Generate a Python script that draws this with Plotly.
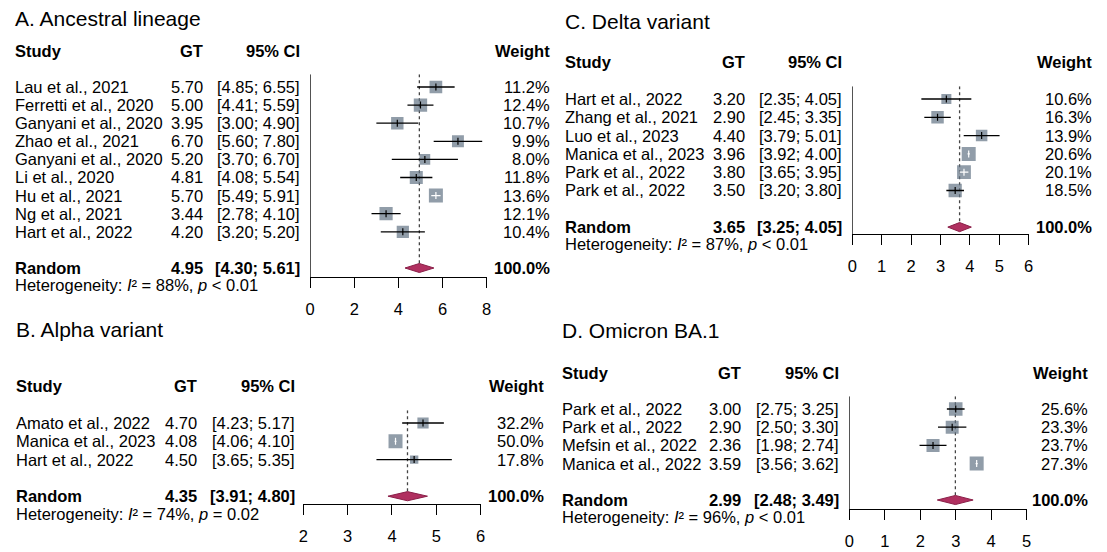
import math
import plotly.graph_objects as go

W, H = 1107, 552
FONT = "Liberation Sans, Arial, sans-serif"
FS = 16.5

# ---------------- data ----------------
a_title = "A. Ancestral lineage"
a_study = ["Lau et al., 2021", "Ferretti et al., 2020", "Ganyani et al., 2020", "Zhao et al., 2021",
           "Ganyani et al., 2020", "Li et al., 2020", "Hu et al., 2021", "Ng et al., 2021", "Hart et al., 2022"]
a_gt = [5.70, 5.00, 3.95, 6.70, 5.20, 4.81, 5.70, 3.44, 4.20]
a_lo = [4.85, 4.41, 3.00, 5.60, 3.70, 4.08, 5.49, 2.78, 3.20]
a_hi = [6.55, 5.59, 4.90, 7.80, 6.70, 5.54, 5.91, 4.10, 5.20]
a_weight = [11.2, 12.4, 10.7, 9.9, 8.0, 11.8, 13.6, 12.1, 10.4]
a_pooled = [4.95, 4.30, 5.61]
a_i2 = 88
a_p = "<i>p</i> &lt; 0.01"
a_ticks = [0, 2, 4, 6, 8]

b_title = "B. Alpha variant"
b_study = ["Amato et al., 2022", "Manica et al., 2023", "Hart et al., 2022"]
b_gt = [4.70, 4.08, 4.50]
b_lo = [4.23, 4.06, 3.65]
b_hi = [5.17, 4.10, 5.35]
b_weight = [32.2, 50.0, 17.8]
b_pooled = [4.35, 3.91, 4.80]
b_i2 = 74
b_p = "<i>p</i> = 0.02"
b_ticks = [2, 3, 4, 5, 6]

c_title = "C. Delta variant"
c_study = ["Hart et al., 2022", "Zhang et al., 2021", "Luo et al., 2023", "Manica et al., 2023",
           "Park et al., 2022", "Park et al., 2022"]
c_gt = [3.20, 2.90, 4.40, 3.96, 3.80, 3.50]
c_lo = [2.35, 2.45, 3.79, 3.92, 3.65, 3.20]
c_hi = [4.05, 3.35, 5.01, 4.00, 3.95, 3.80]
c_weight = [10.6, 16.3, 13.9, 20.6, 20.1, 18.5]
c_pooled = [3.65, 3.25, 4.05]
c_i2 = 87
c_p = "<i>p</i> &lt; 0.01"
c_ticks = [0, 1, 2, 3, 4, 5, 6]

d_title = "D. Omicron BA.1"
d_study = ["Park et al., 2022", "Park et al., 2022", "Mefsin et al., 2022", "Manica et al., 2022"]
d_gt = [3.00, 2.90, 2.36, 3.59]
d_lo = [2.75, 2.50, 1.98, 3.56]
d_hi = [3.25, 3.30, 2.74, 3.62]
d_weight = [25.6, 23.3, 23.7, 27.3]
d_pooled = [2.99, 2.48, 3.49]
d_i2 = 96
d_p = "<i>p</i> &lt; 0.01"
d_ticks = [0, 1, 2, 3, 4, 5]

# ---------------- layout (pixels) ----------------
panels = [
    dict(title=a_title, study=a_study, gt=a_gt, lo=a_lo, hi=a_hi, w=a_weight, pooled=a_pooled,
         i2=a_i2, p=a_p, ticks=a_ticks,
         title_x=8, title_y=18, row0=87, step=18.1, axis_px=277,
         x0=308, x1=486, col_study=8, col_gt=202, col_ci=300, col_w=552),
    dict(title=b_title, study=b_study, gt=b_gt, lo=b_lo, hi=b_hi, w=b_weight, pooled=b_pooled,
         i2=b_i2, p=b_p, ticks=b_ticks,
         title_x=9, title_y=329, row0=423, step=18.3, axis_px=504,
         x0=301, x1=480, col_study=9, col_gt=196, col_ci=295, col_w=546),
    dict(title=c_title, study=c_study, gt=c_gt, lo=c_lo, hi=c_hi, w=c_weight, pooled=c_pooled,
         i2=c_i2, p=c_p, ticks=c_ticks,
         title_x=563, title_y=21, row0=99, step=18.3, axis_px=234,
         x0=855, x1=1033, col_study=563, col_gt=749, col_ci=847, col_w=1099),
    dict(title=d_title, study=d_study, gt=d_gt, lo=d_lo, hi=d_hi, w=d_weight, pooled=d_pooled,
         i2=d_i2, p=d_p, ticks=d_ticks,
         title_x=560, title_y=330, row0=409, step=18.2, axis_px=509,
         x0=852, x1=1031, col_study=560, col_gt=745, col_ci=844, col_w=1095),
]

SQ_COL = "#637485"
DIA_FILL = "#b03060"
DIA_LINE = "#8a1f48"
MAX_SIDE = 14.0
YTOP = -0.7

fig = go.Figure()
annotations = []
layout_axes = {}


def px2py(py):
    return 1 - py / H


def px2px(px):
    return px / W


for k, P in enumerate(panels, start=1):
    xa = "x" if k == 1 else f"x{k}"
    ya = "y" if k == 1 else f"y{k}"
    xname = "xaxis" if k == 1 else f"xaxis{k}"
    yname = "yaxis" if k == 1 else f"yaxis{k}"
    n = len(P["study"])
    rows = list(range(n))
    rand_row = n + 1
    het_row = n + 2
    head_row = -2
    r_bottom = (P["axis_px"] - P["row0"]) / P["step"]
    top_px = P["row0"] + YTOP * P["step"]
    xmin, xmax = P["ticks"][0], P["ticks"][-1]
    ppu = (P["x1"] - P["x0"]) / (xmax - xmin)

    layout_axes[xname] = dict(domain=[px2px(P["x0"]), px2px(P["x1"])], range=[xmin, xmax],
                              anchor=ya, tickvals=P["ticks"], ticks="outside", ticklen=10,
                              tickwidth=1.3, tickcolor="black", showline=True, linecolor="black",
                              linewidth=1.3, showgrid=False, zeroline=False, ticklabelstandoff=7,
                              tickfont=dict(family=FONT, size=FS, color="black"), fixedrange=True)
    layout_axes[yname] = dict(domain=[px2py(P["axis_px"]), px2py(top_px)], range=[r_bottom, YTOP],
                              anchor=xa, visible=False, fixedrange=True)

    # reference line at 0
    if xmin <= 0 <= xmax:
        fig.add_trace(go.Scatter(x=[0, 0], y=[YTOP, r_bottom], mode="lines", xaxis=xa, yaxis=ya,
                                 line=dict(color="black", width=1.3), hoverinfo="skip"))
    est, plo, phi = P["pooled"]
    # dotted pooled line
    fig.add_trace(go.Scatter(x=[est, est], y=[YTOP, rand_row], mode="lines", xaxis=xa, yaxis=ya,
                             line=dict(color="#444444", width=1.3, dash="dot"), hoverinfo="skip"))
    # squares
    wmax = max(P["w"])
    sides = [MAX_SIDE * math.sqrt(w / wmax) for w in P["w"]]
    fig.add_trace(go.Scatter(x=P["gt"], y=rows, mode="markers", xaxis=xa, yaxis=ya,
                             marker=dict(symbol="square", size=sides, color=SQ_COL,
                                         line=dict(color=SQ_COL, width=0)), hoverinfo="skip"))
    # CI lines
    bx, by, wx, wy = [], [], [], []
    tbx, tby, twx, twy = [], [], [], []
    for i in range(n):
        inside = (P["hi"][i] - P["lo"][i]) * ppu < sides[i]
        if inside:
            wx += [P["lo"][i], P["hi"][i], None]
            wy += [i, i, None]
            twx.append(P["gt"][i]); twy.append(i)
        else:
            bx += [P["lo"][i], P["hi"][i], None]
            by += [i, i, None]
            tbx.append(P["gt"][i]); tby.append(i)
    if bx:
        fig.add_trace(go.Scatter(x=bx, y=by, mode="lines", xaxis=xa, yaxis=ya,
                                 line=dict(color="black", width=1.3), hoverinfo="skip"))
        fig.add_trace(go.Scatter(x=tbx, y=tby, mode="markers", xaxis=xa, yaxis=ya,
                                 marker=dict(symbol="line-ns", size=5, line=dict(color="black", width=1.2)),
                                 hoverinfo="skip"))
    if wx:
        fig.add_trace(go.Scatter(x=wx, y=wy, mode="lines", xaxis=xa, yaxis=ya,
                                 line=dict(color="white", width=1.3), hoverinfo="skip"))
        fig.add_trace(go.Scatter(x=twx, y=twy, mode="markers", xaxis=xa, yaxis=ya,
                                 marker=dict(symbol="line-ns", size=5, line=dict(color="white", width=1.2)),
                                 hoverinfo="skip"))
    # diamond
    hh = 0.25
    fig.add_trace(go.Scatter(x=[plo, est, phi, est, plo], y=[rand_row, rand_row - hh, rand_row, rand_row + hh, rand_row],
                             mode="lines", fill="toself", fillcolor=DIA_FILL, xaxis=xa, yaxis=ya,
                             line=dict(color=DIA_LINE, width=1), hoverinfo="skip"))

    # ---- texts (paper coordinates derived from row positions) ----
    def row_py(row):
        return px2py(P["row0"] + row * P["step"])

    def ann(text, xpx, row, anchor, bold=False, size=FS):
        t = f"<b>{text}</b>" if bold else text
        annotations.append(dict(text=t, x=px2px(xpx), xref="paper", y=row_py(row), yref="paper",
                                xanchor=anchor, yanchor="middle", showarrow=False,
                                font=dict(family=FONT, size=size, color="black")))

    annotations.append(dict(text=P["title"], x=px2px(P["title_x"]), xref="paper", y=px2py(P["title_y"]),
                            yref="paper", xanchor="left", yanchor="middle", showarrow=False,
                            font=dict(family=FONT, size=21, color="black")))
    ann("Study", P["col_study"], head_row, "left", bold=True)
    ann("GT", P["col_gt"], head_row, "right", bold=True)
    ann("95% CI", P["col_ci"], head_row, "right", bold=True)
    ann("Weight", P["col_w"], head_row, "right", bold=True)
    for i in range(n):
        ann(P["study"][i], P["col_study"], i, "left")
        ann(f"{P['gt'][i]:.2f}", P["col_gt"], i, "right")
        ann(f"[{P['lo'][i]:.2f}; {P['hi'][i]:.2f}]", P["col_ci"], i, "right")
        ann(f"{P['w'][i]:.1f}%", P["col_w"], i, "right")
    ann("Random", P["col_study"], rand_row, "left", bold=True)
    ann(f"{est:.2f}", P["col_gt"], rand_row, "right", bold=True)
    ann(f"[{plo:.2f}; {phi:.2f}]", P["col_ci"], rand_row, "right", bold=True)
    ann("100.0%", P["col_w"], rand_row, "right", bold=True)
    ann(f"Heterogeneity: <i>I</i>\u00b2 = {P['i2']}%, {P['p']}", P["col_study"], het_row - 0.05, "left")

fig.update_layout(width=W, height=H, margin=dict(l=0, r=0, t=0, b=0), showlegend=False,
                  paper_bgcolor="white", plot_bgcolor="white", annotations=annotations,
                  **layout_axes)

fig.write_html("out.html")
